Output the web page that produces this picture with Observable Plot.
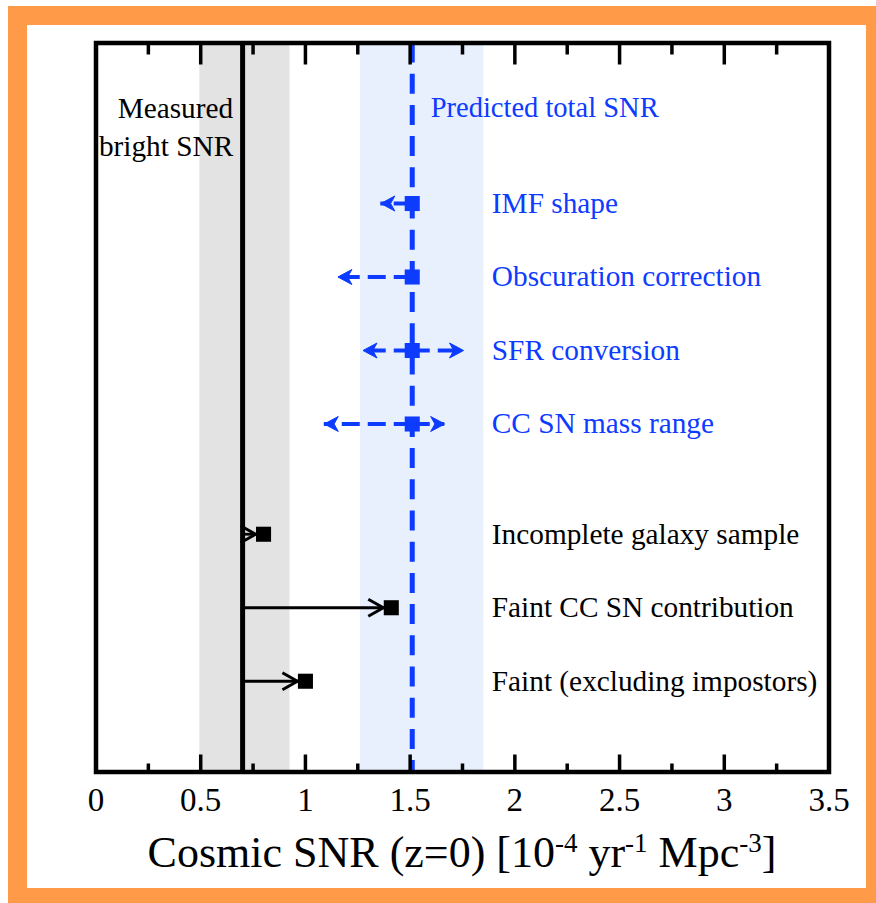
<!DOCTYPE html>
<html><head><meta charset="utf-8">
<script src="https://cdn.jsdelivr.net/npm/d3@7"></script>
<script src="https://cdn.jsdelivr.net/npm/@observablehq/plot@0.6"></script>
<style>
html,body{margin:0;padding:0;background:#fff;overflow:hidden;}
#frame{position:absolute;left:8px;top:6px;width:839px;height:863px;border-style:solid;border-color:#ff9a48;border-width:19px 10px 15px 19px;background:#fff;}
#chart svg{display:block;}
#title{font-family:"Liberation Serif",serif;font-size:44px;color:#000;text-align:center;padding-left:68.5px;padding-right:37.5px;line-height:50px;padding-top:3px;white-space:nowrap;}
#title .sup{font-size:27px;position:relative;top:-15px;}
</style></head><body>
<div id="frame"><div id="chart"></div><div id="title">Cosmic SNR (z=0) [10<span class="sup">-4</span> yr<span class="sup">-1</span> Mpc<span class="sup">-3</span>]</div></div>
<script>
// ---- data ----
const measuredBright = 0.70;
const measuredBand = [0.496, 0.926];
const predictedTotal = 1.51;
const predictedBand = [1.263, 1.852];

const blueLabels = ["IMF shape", "Obscuration correction", "SFR conversion", "CC SN mass range"];
const blueRows = [1, 2, 3, 4];
const blueLow = [1.36, 1.155, 1.275, 1.09];
const blueHigh = [null, null, 1.755, 1.665];

const blackLabels = ["Incomplete galaxy sample", "Faint CC SN contribution", "Faint (excluding impostors)"];
const blackRows = [5.5, 6.5, 7.5];
const blackValues = [0.80, 1.41, 1.00];

const majorTicks = [0, 0.5, 1, 1.5, 2, 2.5, 3, 3.5];
const minorTicks = [0.25, 0.75, 1.25, 1.75, 2.25, 2.75, 3.25];
const tickLabels = ["0", "0.5", "1", "1.5", "2", "2.5", "3", "3.5"];

const measuredText = ["Measured", "bright SNR"];
const measuredTextRows = [-0.293, 0.224];
const measuredTextX = 0.655;
const predictedText = "Predicted total SNR";
const predictedTextRow = -0.306;
const predictedTextX = 1.598;
const rowLabelX = 1.89;
const yDomain = [-1.184, 8.735];

// ---- styles ----
const BLUE = "#0d3bff";
const FONT = "'Liberation Serif', 'Times New Roman', serif";
const W = 839, H = 800, mT = 17.5, mB = 53.5, mL = 68.5, mR = 37.5;
const innerH = H - mT - mB;

// arrowhead symbols (apex at origin)
const headLeft = {draw(ctx) { const L = 14, h = 7.5; ctx.moveTo(0, 0); ctx.lineTo(L, -h); ctx.lineTo(0.7 * L, 0); ctx.lineTo(L, h); ctx.closePath(); }};
const headRight = {draw(ctx) { const L = 14, h = 7.5; ctx.moveTo(0, 0); ctx.lineTo(-L, -h); ctx.lineTo(-0.7 * L, 0); ctx.lineTo(-L, h); ctx.closePath(); }};
const chevronRight = {draw(ctx) { const L = 15, h = 8.5; ctx.moveTo(-L, -h); ctx.lineTo(0, 0); ctx.lineTo(-L, h); }};

const bIdx = blueLabels.map((_, i) => i);
const bHighIdx = bIdx.filter(i => blueHigh[i] != null);
const kIdx = blackLabels.map((_, i) => i);

const chart = Plot.plot({
  width: W, height: H,
  marginTop: mT, marginBottom: mB, marginLeft: mL, marginRight: mR,
  x: {domain: [0, 3.5]},
  y: {domain: yDomain, reverse: true, axis: null},
  style: {fontFamily: FONT, background: "transparent", overflow: "visible"},
  marks: [
    Plot.rect([measuredBand], {x1: d => d[0], x2: d => d[1], fill: "#e3e3e3"}),
    Plot.rect([predictedBand], {x1: d => d[0], x2: d => d[1], fill: "#e8f0fd"}),
    Plot.ruleX([measuredBright], {stroke: "#000", strokeWidth: 5}),
    Plot.ruleX([predictedTotal], {stroke: BLUE, strokeWidth: 5, strokeDasharray: "20,11.2"}),
    // blue dashed error arrows
    Plot.ruleY(bIdx, {y: i => blueRows[i], x1: () => predictedTotal, x2: i => blueLow[i], stroke: BLUE, strokeWidth: 4, strokeDasharray: "18,8"}),
    Plot.ruleY(bHighIdx, {y: i => blueRows[i], x1: () => predictedTotal, x2: i => blueHigh[i], stroke: BLUE, strokeWidth: 4, strokeDasharray: "18,8"}),
    Plot.dot(bIdx, {x: i => blueLow[i], y: i => blueRows[i], symbol: headLeft, fill: BLUE, stroke: BLUE, strokeWidth: 1}),
    Plot.dot(bHighIdx, {x: i => blueHigh[i], y: i => blueRows[i], symbol: headRight, fill: BLUE, stroke: BLUE, strokeWidth: 1}),
    Plot.dot(bIdx, {x: () => predictedTotal, y: i => blueRows[i], symbol: "square", r: 8.5, fill: BLUE}),
    // black arrows
    Plot.ruleY(kIdx, {y: i => blackRows[i], x1: () => measuredBright, x2: i => blackValues[i], stroke: "#000", strokeWidth: 2.8}),
    Plot.dot(kIdx, {x: i => blackValues[i], y: i => blackRows[i], symbol: chevronRight, fill: "none", stroke: "#000", strokeWidth: 3, dx: -8}),
    Plot.dot(kIdx, {x: i => blackValues[i], y: i => blackRows[i], symbol: "square", r: 8.5, fill: "#000"}),
    // text
    Plot.text([predictedText], {x: () => predictedTextX, y: () => predictedTextRow, text: d => d, textAnchor: "start", fill: BLUE, fontSize: 28.5, fontFamily: FONT}),
    Plot.text(measuredText, {x: () => measuredTextX, y: (d, i) => measuredTextRows[i], text: d => d, textAnchor: "end", fill: "#000", fontSize: 29.3, fontFamily: FONT}),
    Plot.text(blueLabels, {x: () => rowLabelX, y: (d, i) => blueRows[i], text: d => d, textAnchor: "start", fill: BLUE, fontSize: 29.3, fontFamily: FONT}),
    Plot.text(blackLabels, {x: () => rowLabelX, y: (d, i) => blackRows[i], text: d => d, textAnchor: "start", fill: "#000", fontSize: 29.3, fontFamily: FONT}),
    // ticks (inward, top and bottom)
    Plot.ruleX(majorTicks, {stroke: "#000", strokeWidth: 3.5, insetTop: innerH - 17}),
    Plot.ruleX(majorTicks, {stroke: "#000", strokeWidth: 3.5, insetBottom: innerH - 22}),
    Plot.ruleX(minorTicks, {stroke: "#000", strokeWidth: 3.5, insetTop: innerH - 8}),
    Plot.ruleX(minorTicks, {stroke: "#000", strokeWidth: 3.5, insetBottom: innerH - 12}),
    Plot.axisX(majorTicks, {tickSize: 0, tickPadding: 15.5, tickFormat: d => tickLabels[majorTicks.indexOf(d)], fontSize: 33, fontFamily: FONT, fill: "#000", label: null}),
    Plot.frame({stroke: "#000", strokeWidth: 4.5})
  ]
});
document.getElementById("chart").appendChild(chart);
</script>
</body></html>
